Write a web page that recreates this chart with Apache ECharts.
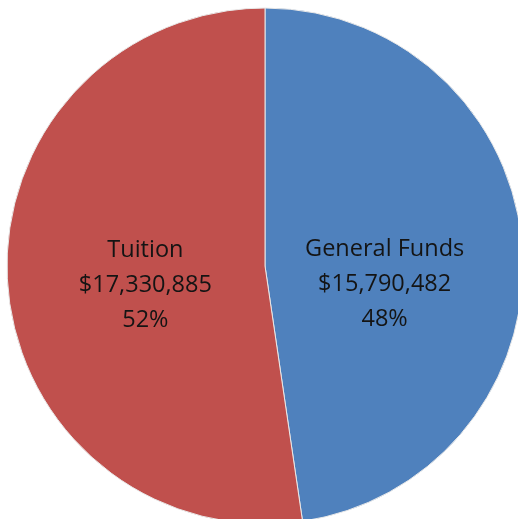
<!DOCTYPE html>
<html>
<head>
<meta charset="utf-8">
<script src="https://cdn.jsdelivr.net/npm/echarts@6/dist/echarts.min.js"></script>
<style>
  html, body { margin: 0; padding: 0; background: #fff; }
  #chart { width: 518px; height: 519px; }
</style>
</head>
<body>
<div id="chart"></div>
<script>
// Funding sources
const categories = ['General Funds', 'Tuition'];
const amounts = [15790482, 17330885];
const colors = ['#4F81BD', '#C0504D'];
const labelOffsets = [[-12, 28], [12, 10]];

const chart = echarts.init(document.getElementById('chart'), null, { renderer: 'canvas' });

const data = categories.map((name, i) => ({
  name: name,
  value: amounts[i],
  itemStyle: { color: colors[i] },
  label: { offset: labelOffsets[i] }
}));

chart.setOption({
  animation: false,
  series: [{
    type: 'pie',
    center: [265, 266],
    radius: 258,
    startAngle: 90,
    clockwise: true,
    percentPrecision: 0,
    itemStyle: { borderColor: '#e8e8e8', borderWidth: 1 },
    label: {
      show: true,
      position: 'inside',
      color: '#141414',
      fontFamily: 'Open Sans',
      fontSize: 23.5,
      lineHeight: 35,
      align: 'center',
      formatter: p => p.name + '\n$' + p.value.toLocaleString('en-US') + '\n' + Math.round(p.percent) + '%'
    },
    labelLine: { show: false },
    emphasis: { disabled: true },
    data: data
  }]
});
</script>
</body>
</html>
